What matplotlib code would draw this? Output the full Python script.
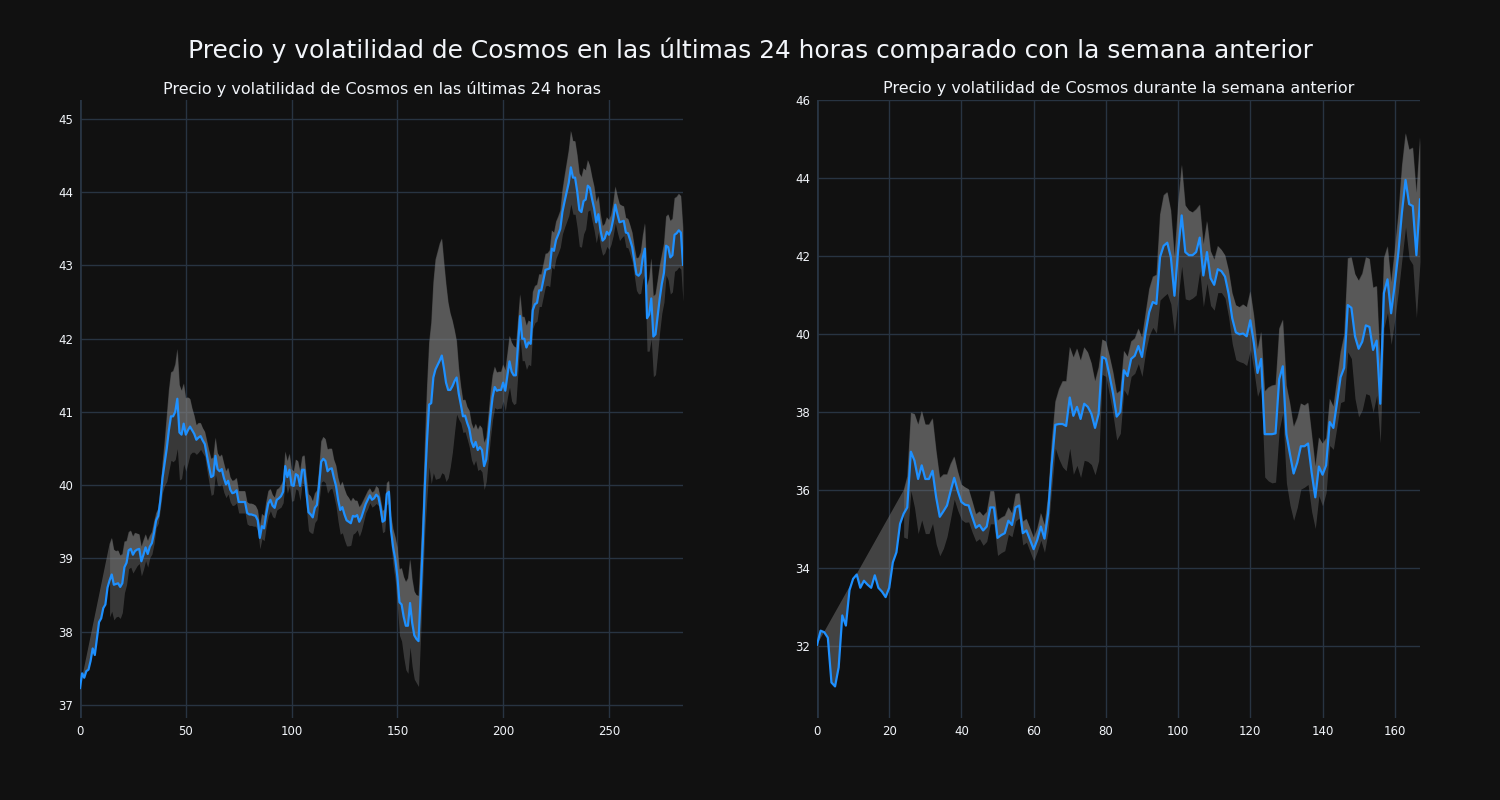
import numpy as np
import matplotlib
matplotlib.use("Agg")
import matplotlib.pyplot as plt

# ---------------- data ----------------
title_main = "Precio y volatilidad de Cosmos en las últimas 24 horas comparado con la semana anterior"
title_left = "Precio y volatilidad de Cosmos en las últimas 24 horas"
title_right = "Precio y volatilidad de Cosmos durante la semana anterior"

price_24h = [
    37.23, 37.43, 37.37, 37.46, 37.48, 37.60, 37.77, 37.68, 37.90, 38.13,
    38.18, 38.32, 38.37, 38.60, 38.70, 38.78, 38.64, 38.65, 38.66, 38.61,
    38.66, 38.88, 38.94, 39.11, 39.13, 39.05, 39.10, 39.12, 39.13, 38.96,
    39.05, 39.15, 39.06, 39.16, 39.21, 39.35, 39.52, 39.58, 39.80, 40.10,
    40.30, 40.50, 40.75, 40.94, 40.94, 41.00, 41.18, 40.72, 40.69, 40.84,
    40.69, 40.75, 40.80, 40.75, 40.70, 40.62, 40.65, 40.67, 40.61, 40.56,
    40.40, 40.25, 40.11, 40.13, 40.40, 40.22, 40.19, 40.22, 40.10, 40.01,
    40.06, 39.94, 39.89, 39.90, 39.93, 39.77, 39.77, 39.77, 39.77, 39.62,
    39.60, 39.60, 39.59, 39.58, 39.52, 39.28, 39.44, 39.41, 39.60, 39.75,
    39.80, 39.72, 39.69, 39.80, 39.82, 39.85, 39.91, 40.26, 40.11, 40.21,
    40.00, 39.99, 40.15, 40.13, 39.99, 40.21, 40.21, 39.90, 39.63, 39.60,
    39.56, 39.69, 39.73, 40.00, 40.32, 40.36, 40.33, 40.19, 40.22, 40.23,
    40.10, 39.99, 39.80, 39.66, 39.70, 39.60, 39.52, 39.50, 39.48, 39.58,
    39.57, 39.59, 39.50, 39.56, 39.65, 39.74, 39.80, 39.86, 39.80, 39.82,
    39.87, 39.84, 39.70, 39.50, 39.52, 39.88, 39.91, 39.38, 39.15, 38.99,
    38.75, 38.40, 38.37, 38.20, 38.08, 38.08, 38.39, 38.12, 37.95, 37.90,
    37.87, 38.50, 39.20, 39.99, 40.60, 41.10, 41.12, 41.47, 41.58, 41.64,
    41.70, 41.77, 41.60, 41.40, 41.30, 41.30, 41.35, 41.42, 41.47, 41.25,
    41.10, 40.94, 40.95, 40.85, 40.77, 40.60, 40.52, 40.59, 40.48, 40.52,
    40.48, 40.26, 40.35, 40.65, 40.95, 41.20, 41.34, 41.29, 41.30, 41.30,
    41.40, 41.29, 41.50, 41.69, 41.55, 41.50, 41.50, 41.90, 42.31, 42.00,
    42.00, 41.88, 41.95, 41.93, 42.39, 42.47, 42.49, 42.66, 42.66, 42.80,
    42.94, 42.95, 42.96, 43.23, 43.20, 43.35, 43.42, 43.50, 43.73, 43.87,
    44.00, 44.13, 44.34, 44.20, 44.20, 44.01, 43.76, 43.73, 43.88, 43.90,
    44.09, 44.06, 43.91, 43.78, 43.59, 43.70, 43.48, 43.34, 43.37, 43.46,
    43.42, 43.49, 43.63, 43.83, 43.70, 43.59, 43.60, 43.61, 43.45, 43.44,
    43.35, 43.25, 43.06, 42.88, 42.86, 42.90, 43.11, 43.23, 42.28, 42.33,
    42.55, 42.03, 42.06, 42.30, 42.55, 42.75, 42.90, 43.27, 43.25, 43.11,
    43.14, 43.42, 43.44, 43.48, 43.45, 43.01,
]

vol_24h = [None] * 14 + [
    0.50, 0.50, 0.48, 0.45, 0.45, 0.43,
    0.40, 0.35, 0.30, 0.25, 0.25, 0.25, 0.25, 0.22, 0.20, 0.20,
    0.20, 0.18, 0.18, 0.15, 0.15, 0.15, 0.10, 0.10, 0.12, 0.20,
    0.30, 0.45, 0.55, 0.60, 0.62, 0.65, 0.68, 0.65, 0.60, 0.55,
    0.50, 0.45, 0.38, 0.30, 0.25, 0.20, 0.20, 0.18, 0.17, 0.17,
    0.20, 0.22, 0.25, 0.25, 0.25, 0.22, 0.20, 0.20, 0.20, 0.18,
    0.18, 0.17, 0.17, 0.17, 0.17, 0.15, 0.15, 0.15, 0.15, 0.15,
    0.15, 0.15, 0.15, 0.14, 0.14, 0.15, 0.17, 0.17, 0.17, 0.17,
    0.15, 0.15, 0.14, 0.14, 0.14, 0.15, 0.15, 0.20, 0.22, 0.22,
    0.22, 0.20, 0.20, 0.20, 0.20, 0.18, 0.20, 0.22, 0.25, 0.25,
    0.22, 0.20, 0.20, 0.22, 0.28, 0.30, 0.30, 0.30, 0.28, 0.27,
    0.25, 0.28, 0.30, 0.33, 0.35, 0.35, 0.35, 0.33, 0.30, 0.25,
    0.22, 0.20, 0.20, 0.18, 0.15, 0.12, 0.12, 0.10, 0.10, 0.10,
    0.12, 0.12, 0.12, 0.15, 0.15, 0.15, 0.15, 0.20, 0.25, 0.30,
    0.40, 0.45, 0.50, 0.55, 0.60, 0.65, 0.60, 0.60, 0.60, 0.60,
    0.62, 0.55, 0.50, 0.60, 0.75, 0.85, 1.10, 1.30, 1.50, 1.55,
    1.60, 1.60, 1.45, 1.35, 1.20, 1.05, 0.90, 0.70, 0.50, 0.35,
    0.25, 0.22, 0.22, 0.22, 0.25, 0.25, 0.25, 0.25, 0.28, 0.30,
    0.30, 0.32, 0.30, 0.30, 0.30, 0.30, 0.28, 0.25, 0.25, 0.25,
    0.25, 0.28, 0.30, 0.35, 0.40, 0.40, 0.38, 0.35, 0.30, 0.30,
    0.30, 0.30, 0.30, 0.30, 0.25, 0.25, 0.25, 0.22, 0.22, 0.22,
    0.22, 0.22, 0.25, 0.25, 0.25, 0.25, 0.25, 0.25, 0.30, 0.35,
    0.40, 0.45, 0.50, 0.50, 0.50, 0.50, 0.50, 0.48, 0.45, 0.40,
    0.35, 0.30, 0.30, 0.30, 0.28, 0.25, 0.22, 0.20, 0.20, 0.20,
    0.20, 0.20, 0.22, 0.25, 0.25, 0.25, 0.22, 0.20, 0.20, 0.20,
    0.20, 0.20, 0.20, 0.22, 0.25, 0.28, 0.30, 0.35, 0.45, 0.50,
    0.55, 0.55, 0.55, 0.50, 0.45, 0.40, 0.40, 0.40, 0.45, 0.50,
    0.50, 0.50, 0.50, 0.50, 0.50, 0.50,
]

price_week = [
    32.03, 32.39, 32.35, 32.21, 31.06, 30.96, 31.45, 32.78, 32.52, 33.43,
    33.72, 33.83, 33.49, 33.67, 33.57, 33.49, 33.81, 33.49, 33.39, 33.25,
    33.49, 34.14, 34.40, 35.13, 35.39, 35.55, 36.98, 36.75, 36.28, 36.63,
    36.28, 36.28, 36.49, 35.81, 35.31, 35.45, 35.60, 35.97, 36.31, 35.97,
    35.69, 35.62, 35.60, 35.31, 35.03, 35.10, 34.96, 35.06, 35.55, 35.55,
    34.77, 34.84, 34.89, 35.21, 35.10, 35.55, 35.60, 34.89, 34.96, 34.72,
    34.48, 34.72, 35.06, 34.75, 35.39, 36.65, 37.67, 37.69, 37.69, 37.64,
    38.37, 37.90, 38.13, 37.82, 38.21, 38.13, 37.95, 37.59, 37.95, 39.41,
    39.36, 38.94, 38.47, 37.88, 38.00, 39.07, 38.92, 39.36, 39.44, 39.69,
    39.41, 40.04, 40.56, 40.82, 40.77, 41.97, 42.26, 42.34, 41.97, 40.98,
    42.13, 43.04, 42.10, 42.02, 42.02, 42.10, 42.47, 41.50, 42.10, 41.43,
    41.26, 41.66, 41.61, 41.47, 41.03, 40.40, 40.04, 39.99, 40.01, 39.94,
    40.35, 39.76, 39.00, 39.36, 37.43, 37.43, 37.43, 37.45, 38.84, 39.17,
    37.43, 36.91, 36.42, 36.70, 37.12, 37.12, 37.19, 36.44, 35.81, 36.60,
    36.39, 36.63, 37.74, 37.59, 38.23, 38.89, 39.13, 40.74, 40.67, 39.94,
    39.62, 39.80, 40.22, 40.18, 39.59, 39.83, 38.21, 41.05, 41.40, 40.53,
    41.26, 42.08, 43.12, 43.95, 43.33, 43.28, 42.02, 43.45,
]

vol_week = [None] * 24 + [
    0.60, 0.80, 1.00, 1.20, 1.40, 1.40,
    1.40, 1.40, 1.35, 1.20, 1.00, 0.95, 0.80, 0.70, 0.55, 0.50,
    0.45, 0.45, 0.42, 0.40, 0.35, 0.35, 0.38, 0.38, 0.42, 0.42,
    0.45, 0.45, 0.45, 0.35, 0.30, 0.35, 0.32, 0.30, 0.30, 0.30,
    0.30, 0.30, 0.35, 0.35, 0.45, 0.60, 0.60, 0.90, 1.10, 1.15,
    1.30, 1.50, 1.50, 1.50, 1.45, 1.40, 1.30, 1.20, 1.20, 0.45,
    0.45, 0.50, 0.55, 0.60, 0.55, 0.50, 0.50, 0.45, 0.45, 0.45,
    0.50, 0.50, 0.60, 0.65, 0.75, 1.10, 1.30, 1.30, 1.20, 1.00,
    1.20, 1.30, 1.20, 1.15, 1.10, 1.10, 0.85, 0.80, 0.80, 0.70,
    0.65, 0.60, 0.55, 0.55, 0.60, 0.65, 0.70, 0.70, 0.75, 0.75,
    0.75, 0.70, 0.60, 0.70, 1.10, 1.20, 1.25, 1.25, 1.30, 1.20,
    1.25, 1.30, 1.20, 1.15, 1.10, 1.05, 1.05, 1.00, 0.80, 0.75,
    0.80, 0.70, 0.60, 0.55, 0.60, 0.65, 0.85, 1.20, 1.30, 1.60,
    1.75, 1.75, 1.75, 1.75, 1.60, 1.40, 1.00, 0.90, 0.85, 0.80,
    0.90, 1.00, 1.20, 1.20, 1.40, 1.50, 1.60, 1.60,
]

ylim_24h = (36.82, 45.26)
ylim_week = (30.15, 46.0)

# ---------------- style ----------------
BG = "#111111"
GRID = "#283442"
TXT = "#f2f5fa"
LINE = "#1e90ff"

plt.rcParams["font.family"] = ["DejaVu Sans"]

fig = plt.figure(figsize=(15, 8), dpi=100, facecolor=BG)
ax1 = fig.add_axes([80 / 1500, 1 - 718 / 800, 603 / 1500, 618 / 800])
ax2 = fig.add_axes([817 / 1500, 1 - 718 / 800, 603 / 1500, 618 / 800])


def draw(ax, price, vol, ylim, ystep):
    price = np.asarray(price, dtype=float)
    vol = np.array([np.nan if v is None else v for v in vol], dtype=float)
    x = np.arange(len(price))
    valid = ~np.isnan(vol)
    xv = x[valid]
    up = price[valid] + vol[valid]
    lo = price[valid] - vol[valid]
    ax.set_facecolor(BG)
    # fill price -> upper (plotly-like polygon, includes closing chord)
    xa = np.concatenate([x, xv[::-1]])
    ya = np.concatenate([price, up[::-1]])
    ax.fill(xa, ya, color="#808080", alpha=0.46, lw=0, zorder=2)
    # fill lower -> upper
    ax.fill_between(xv, lo, up, color="#808080", alpha=0.36, lw=0, zorder=2)
    ax.plot(x, price, color=LINE, lw=1.6, zorder=3)
    ax.set_xlim(0, len(price) - 1)
    ax.set_ylim(*ylim)
    ax.grid(True, color=GRID, lw=1, zorder=0)
    ax.set_axisbelow(True)
    ax.axvline(0, color=GRID, lw=2, zorder=1)
    for s in ax.spines.values():
        s.set_visible(False)
    ax.tick_params(colors=TXT, labelsize=8.5, length=0, pad=5)
    ax.yaxis.set_major_locator(matplotlib.ticker.MultipleLocator(ystep))


draw(ax1, price_24h, vol_24h, ylim_24h, 1)
ax1.xaxis.set_major_locator(matplotlib.ticker.MultipleLocator(50))
draw(ax2, price_week, vol_week, ylim_week, 2)
ax2.xaxis.set_major_locator(matplotlib.ticker.MultipleLocator(20))

fig.text(0.5, 1 - 50 / 800, title_main, color=TXT, fontsize=17.9,
         ha="center", va="center")
fig.text((80 + 683) / 2 / 1500, 1 - 89 / 800, title_left, color=TXT,
         fontsize=11.5, ha="center", va="center")
fig.text((817 + 1420) / 2 / 1500, 1 - 89 / 800, title_right, color=TXT,
         fontsize=11.5, ha="center", va="center")

fig.savefig("out.png", dpi=100, facecolor=BG)
